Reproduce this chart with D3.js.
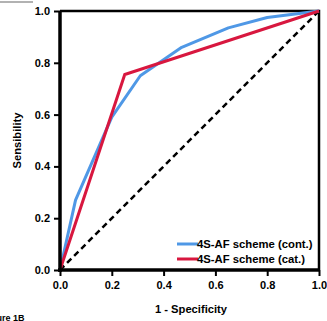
<!DOCTYPE html>
<html>
<head>
<meta charset="utf-8">
<script src="https://cdn.jsdelivr.net/npm/d3@7"></script>
<style>
  body { margin: 0; background: #fff; }
  text { font-family: "Liberation Sans", Arial, sans-serif; font-weight: bold; fill: #000; }
</style>
</head>
<body>
<script>
// ROC points
let contFpr = [0, 0.06, 0.2, 0.31, 0.47, 0.65, 0.8, 1];
let contTpr = [0, 0.27, 0.59, 0.75, 0.86, 0.935, 0.975, 1];
let catFpr = [0, 0.25, 1];
let catTpr = [0, 0.755, 1];
let tickVals = [0, 0.2, 0.4, 0.6, 0.8, 1.0];
let seriesNames = ["4S-AF scheme (cont.)", "4S-AF scheme (cat.)"];
let seriesColors = ["#4f98e6", "#d8173f"];

(function() {
    let width = 327, height = 321;
    let svg = d3.select("body").append("svg")
        .attr("width", width)
        .attr("height", height);

    let x = d3.scaleLinear().domain([0, 1]).range([60, 319]);
    let y = d3.scaleLinear().domain([0, 1]).range([270, 11]);

    // bits of the figure frame that got cropped
    svg.append("line")
        .attr("x1", 0).attr("x2", 33).attr("y1", 2).attr("y2", 2)
        .attr("stroke", "#999").attr("stroke-width", 1.5);
    svg.append("text")
        .attr("x", -17).attr("y", 321)
        .style("font-size", "9px")
        .text("Figure 1B");

    // top + right frame
    svg.append("path")
        .attr("d", "M" + x(0) + "," + y(1) + "H" + x(1) + "V" + y(0))
        .attr("fill", "none").attr("stroke", "#000").attr("stroke-width", 2.5);

    // reference diagonal
    svg.append("line")
        .attr("x1", x(0)).attr("y1", y(0)).attr("x2", x(1)).attr("y2", y(1))
        .attr("stroke", "#000").attr("stroke-width", 2.5)
        .attr("stroke-dasharray", "6,4");

    let line = d3.line()
        .x(function(d) { return x(d[0]); })
        .y(function(d) { return y(d[1]); });

    let contData = d3.zip(contFpr, contTpr);
    let catData = d3.zip(catFpr, catTpr);

    svg.append("path").datum(contData)
        .attr("d", line).attr("fill", "none")
        .attr("stroke", seriesColors[0]).attr("stroke-width", 3)
        .attr("stroke-linejoin", "round");
    svg.append("path").datum(catData)
        .attr("d", line).attr("fill", "none")
        .attr("stroke", seriesColors[1]).attr("stroke-width", 3);

    // axes
    let fmt = d3.format(".1f");
    let xAxis = svg.append("g")
        .attr("transform", "translate(0," + y(0) + ")")
        .call(d3.axisBottom(x).tickValues(tickVals).tickFormat(fmt).tickSize(6).tickPadding(5));
    let yAxis = svg.append("g")
        .attr("transform", "translate(" + x(0) + ",0)")
        .call(d3.axisLeft(y).tickValues(tickVals).tickFormat(fmt).tickSize(6).tickPadding(4));
    [xAxis, yAxis].forEach(function(g) {
        g.select(".domain").attr("stroke-width", 3.5).attr("d",
            g === xAxis ? "M" + (x(0) - 2) + ",0H" + x(1) : "M0," + (y(0) + 2) + "V" + y(1));
        g.selectAll(".tick line").attr("stroke-width", 2);
        g.selectAll(".tick text").style("font-size", "11px").style("font-weight", "bold")
            .style("font-family", "'Liberation Sans', Arial, sans-serif");
    });

    // axis titles
    svg.append("text")
        .attr("x", 191).attr("y", 313)
        .attr("text-anchor", "middle")
        .style("font-size", "11.2px")
        .text("1 - Specificity");
    svg.append("text")
        .attr("transform", "translate(21," + y(0.5) + ") rotate(-90)")
        .attr("text-anchor", "middle")
        .style("font-size", "11.2px")
        .text("Sensibility");

    // legend
    let legend = svg.selectAll(".legend")
        .data(seriesNames)
        .enter()
        .append("g")
        .attr("class", "legend")
        .attr("transform", function(d, i) { return "translate(0," + (244 + i * 15) + ")"; });
    legend.append("line")
        .attr("x1", 177).attr("x2", 198)
        .attr("stroke", function(d, i) { return seriesColors[i]; })
        .attr("stroke-width", 3);
    legend.append("text")
        .attr("x", 197).attr("y", 4)
        .style("font-size", "11.3px")
        .text(function(d) { return d; });
})();
</script>
</body>
</html>
